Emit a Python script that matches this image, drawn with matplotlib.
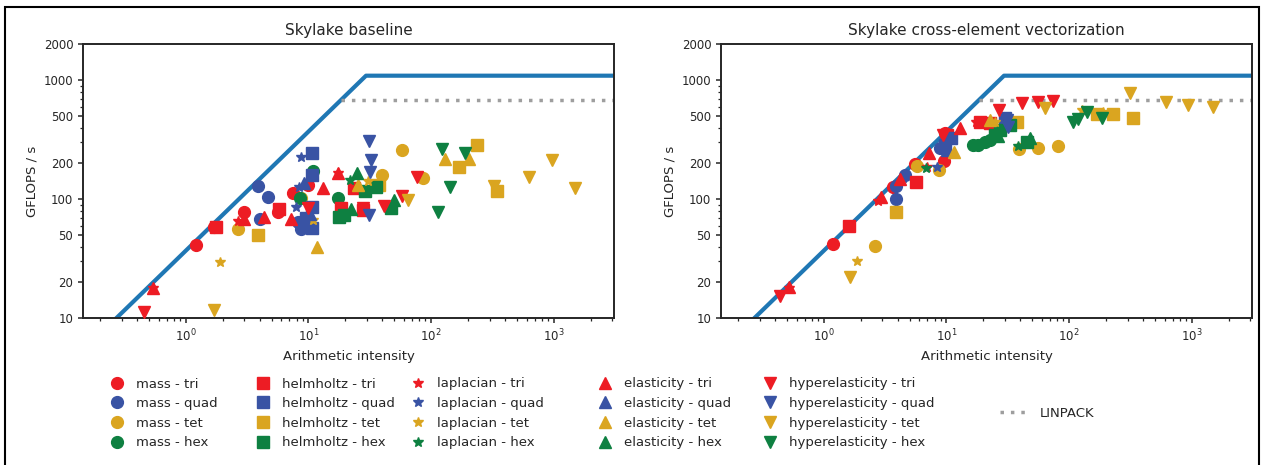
import numpy as np
import matplotlib
matplotlib.use("Agg")
import matplotlib.pyplot as plt
from matplotlib.lines import Line2D
from matplotlib.ticker import FixedLocator, FixedFormatter, NullFormatter, LogLocator

# machine limits (GFLOP/s, GB/s)
PEAK = 1090
BANDWIDTH = 37
LINPACK = 680

FORMS = ['mass', 'helmholtz', 'laplacian', 'elasticity', 'hyperelasticity']
CELLS = ['tri', 'quad', 'tet', 'hex']

# ---- Skylake baseline: cell -> (arithmetic intensity, GFLOP/s)
base_mass = {
    'tri': ([1.21, 1.69, 2.97, 5.62, 7.45, 9.87], [41, 58.5, 78, 78, 113, 132]),
    'quad': ([3.86, 4.66, 4.01, 8.18, 9.16, 8.65], [129, 104, 68, 64, 59.7, 56]),
    'tet': ([2.65, 8.65, 39.6, 57.6, 85.5], [56, 102, 160, 259, 151]),
    'hex': ([10.8, 8.5, 17.3], [173, 102, 102]),
}
base_helmholtz = {
    'tri': ([1.76, 5.73, 18.3, 23.4, 27.7], [58.5, 83, 84.5, 124, 81]),
    'quad': ([10.7, 10.6, 10.7, 10.6, 9.5], [245, 160, 86, 57, 70]),
    'tet': ([3.86, 37.4, 168, 235, 343], [50, 132, 187, 286, 117]),
    'hex': ([35.4, 28.8, 46.9, 19.4, 17.7], [127, 117, 84.5, 74, 71]),
}
base_laplacian = {
    'tri': ([0.54, 2.65, 17.3], [18, 66, 166]),
    'quad': ([8.77, 8.38, 7.88], [226, 127, 86]),
    'tet': ([1.89, 10.8, 30.4], [29.7, 67, 143]),
    'hex': ([21.7, 18.7], [145, 74]),
}
base_elasticity = {
    'tri': ([0.54, 2.97, 4.32, 7.17, 13.1, 17.3], [17.9, 68, 71, 68, 124, 166]),
    'quad': ([9.16, 10.2], [137, 75]),
    'tet': ([11.8, 25.2, 131, 202], [40, 132, 218, 218]),
    'hex': ([24.8, 49.6, 22.1], [166, 99, 83]),
}
base_hyperelasticity = {
    'tri': ([0.455, 9.87, 27.7, 41.1, 57.6, 76.3], [11.3, 84.5, 84.5, 88, 107, 154]),
    'quad': ([31, 32.2, 31.6, 31], [309, 214, 169, 74]),
    'tet': ([1.69, 64.5, 324, 624, 961, 1480], [11.7, 99, 129, 154, 214, 124]),
    'hex': ([122, 188, 142, 113], [265, 245, 127, 78]),
}

# ---- Skylake cross-element vectorization
vec_mass = {
    'tri': ([1.18, 3.65, 5.52, 9.5, 9.69], [42, 127, 198, 210, 360]),
    'quad': ([3.86, 3.86, 4.57, 8.82, 10.6], [101, 129, 160, 270, 327]),
    'tet': ([2.6, 5.73, 8.65, 38.8, 55.5, 80.7], [40.6, 190, 176, 265, 270, 281]),
    'hex': ([16.4, 18, 20.5, 22.5], [286, 286, 303, 315]),
}
vec_helmholtz = {
    'tri': ([1.6, 5.62, 10.05, 18.7, 22.5], [59.7, 140, 347, 447, 437]),
    'quad': ([9.69, 10.8, 29.9], [286, 327, 482]),
    'tet': ([3.86, 37.4, 168, 227, 330], [78, 447, 521, 521, 482]),
    'hex': ([45.1, 27.2, 32.8, 24.8], [303, 382, 421, 347]),
}
vec_laplacian = {
    'tri': ([0.52, 2.75, 6.91, 17.3], [18, 97, 187, 447]),
    'quad': ([4.4, 8.34], [151, 187]),
    'tet': ([1.86, 24.8, 127, 188], [30.3, 447, 563, 542]),
    'hex': ([6.78, 38.1], [183, 281]),
}
vec_elasticity = {
    'tri': ([0.52, 2.91, 4.16, 7.17, 12.8], [18.3, 104, 148, 245, 397]),
    'quad': ([10.05], [260]),
    'tet': ([11.5, 22.5], [250, 463]),
    'hex': ([26.2, 47.7], [340, 327]),
}
vec_hyperelasticity = {
    'tri': ([0.438, 9.33, 26.7, 41.1, 55.5, 73.5], [15.4, 347, 563, 644, 657, 670]),
    'quad': ([31, 31.6], [463, 405]),
    'tet': ([1.63, 63.2, 312, 613, 926, 1480], [22.2, 585, 782, 657, 620, 597]),
    'hex': ([107, 117.5, 139, 184], [447, 473, 542, 482]),
}

YTICKS = [10, 20, 50, 100, 200, 500, 1000, 2000]

MARKERS = {'mass': 'o', 'helmholtz': 's', 'laplacian': '*',
           'elasticity': '^', 'hyperelasticity': 'v'}
COLORS = {'tri': '#ED1C24', 'quad': '#3953A4', 'tet': '#DAA520', 'hex': '#0E8041'}
MSIZE = {'mass': 8.5, 'helmholtz': 8, 'laplacian': 7.5, 'elasticity': 9, 'hyperelasticity': 9}

TEXT = '#262626'
plt.rcParams['font.family'] = ['DejaVu Sans']
plt.rcParams['text.color'] = TEXT
plt.rcParams['axes.labelcolor'] = TEXT
plt.rcParams['xtick.color'] = TEXT
plt.rcParams['ytick.color'] = TEXT
plt.rcParams['axes.edgecolor'] = TEXT


def draw_panel(ax, title, panel):
    ai = np.array([0.1, PEAK / BANDWIDTH, 4000])
    ax.plot(ai, np.minimum(PEAK, BANDWIDTH * ai), color='#1f77b4', lw=3, zorder=1)
    ax.plot([LINPACK / BANDWIDTH, 4000], [LINPACK, LINPACK], color='#9e9e9e',
            lw=2.5, linestyle=(0, (1, 2)), zorder=1)
    for form in FORMS:
        for cell in CELLS:
            xs, ys = panel[form][cell]
            ax.plot(xs, ys, linestyle='none', marker=MARKERS[form], ms=MSIZE[form],
                    color=COLORS[cell], mec=COLORS[cell], zorder=3)
    ax.set_xscale('log')
    ax.set_yscale('log')
    ax.set_xlim(0.145, 3100)
    ax.set_ylim(10, 2000)
    ax.yaxis.set_major_locator(FixedLocator(YTICKS))
    ax.yaxis.set_major_formatter(FixedFormatter([str(t) for t in YTICKS]))
    ax.yaxis.set_minor_locator(LogLocator(base=10, subs=np.arange(2, 10)))
    ax.yaxis.set_minor_formatter(NullFormatter())
    ax.tick_params(labelsize=8.5, width=1.1)
    ax.tick_params(which='minor', width=0.9)
    for s in ax.spines.values():
        s.set_linewidth(1.4)
    ax.set_title(title, fontsize=11, pad=7)
    ax.set_xlabel('Arithmetic intensity', fontsize=9.5)
    ax.set_ylabel('GFLOPS / s', fontsize=9.5)


W, H = 1266, 465
fig = plt.figure(figsize=(W / 100, H / 100), dpi=100)
ax1 = fig.add_axes([83 / W, 1 - 318.3 / H, 531 / W, 274 / H])
ax2 = fig.add_axes([721 / W, 1 - 318.3 / H, 531 / W, 274 / H])

base = {'mass': base_mass, 'helmholtz': base_helmholtz, 'laplacian': base_laplacian,
        'elasticity': base_elasticity, 'hyperelasticity': base_hyperelasticity}
vec = {'mass': vec_mass, 'helmholtz': vec_helmholtz, 'laplacian': vec_laplacian,
       'elasticity': vec_elasticity, 'hyperelasticity': vec_hyperelasticity}

draw_panel(ax1, 'Skylake baseline', base)
draw_panel(ax2, 'Skylake cross-element vectorization', vec)

# legend: one column per form
col_x = [117, 263, 418, 605, 770]
for form, cx in zip(FORMS, col_x):
    handles = [Line2D([], [], linestyle='none', marker=MARKERS[form], ms=MSIZE[form],
                      color=COLORS[c]) for c in CELLS]
    labels = [f'{form} - {c}' for c in CELLS]
    fig.legend(handles, labels, loc='upper left',
               bbox_to_anchor=((cx - 7.9) / W, 1 - 377.5 / H),
               frameon=False, borderpad=0, borderaxespad=0, handlelength=1.2,
               handletextpad=0.85, labelspacing=0.5, fontsize=9.5)

lin = Line2D([], [], color='#9e9e9e', lw=2.5, linestyle=(0, (1, 2)))
fig.legend([lin], ['LINPACK'], loc='center left', bbox_to_anchor=(1000 / W, 1 - 413.5 / H),
           frameon=False, borderpad=0, borderaxespad=0, handlelength=2.0,
           handletextpad=1.0, fontsize=9.5)

# outer frame
fig.add_artist(plt.Rectangle((5 / W, -0.02), 1254 / W, 1.02 - 7 / H,
                             transform=fig.transFigure, fill=False, ec='black', lw=1.5))

fig.savefig('out.png', dpi=100)
